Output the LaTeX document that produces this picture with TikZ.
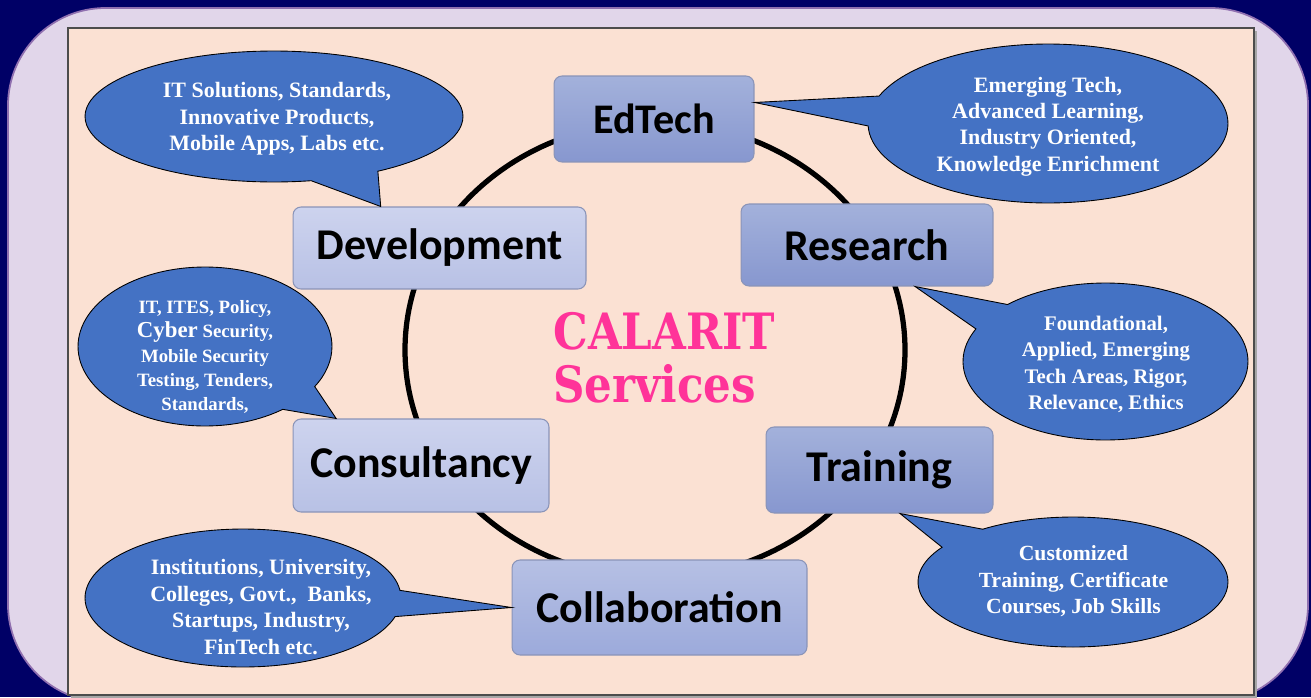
\documentclass[tikz,border=0pt]{standalone}
\usepackage{fontspec}
\setmainfont{Liberation Serif}
\newfontfamily\boxfont{Carlito}
\newfontfamily\titlefont[FakeStretch=0.87]{DejaVu Serif}
\usepackage{tikz}
\usetikzlibrary{shapes.callouts,calc}

\definecolor{navy}{HTML}{000066}
\definecolor{lavender}{HTML}{E1D6EA}
\definecolor{lavedge}{HTML}{9070B0}
\definecolor{peach}{HTML}{FBE1D3}
\definecolor{bubbleblue}{HTML}{4472C4}
\definecolor{titlepink}{HTML}{FF3399}
\definecolor{boxedge}{HTML}{8A94B8}
\definecolor{darktop}{HTML}{A3B1DB}
\definecolor{darkbot}{HTML}{8797CF}
\definecolor{lighttop}{HTML}{CDD3EE}
\definecolor{lightbot}{HTML}{B8C1E5}
\definecolor{midtop}{HTML}{B6C0E4}
\definecolor{midbot}{HTML}{9CAADB}

\begin{document}
\begin{tikzpicture}[x=0.02cm,y=-0.02cm,
  service/.style={draw=boxedge, line width=0.6pt, rounded corners=0.16cm, inner sep=0pt,
    font=\boxfont\bfseries\fontsize{25}{29}\selectfont},
  darkbox/.style={service, top color=darktop, bottom color=darkbot},
  lightbox/.style={service, top color=lighttop, bottom color=lightbot},
  midbox/.style={service, top color=midtop, bottom color=midbot},
  bubble/.style={ellipse callout, fill=bubbleblue, draw=black, line width=0.5pt,
    inner sep=0pt, callout pointer arc=22},
  bubbletext/.style={text=white, align=center, inner sep=0pt,
    font=\bfseries\fontsize{12.5}{15}\selectfont},
  ring/.style={draw=black, line width=0.105cm}
]
  \useasboundingbox (0,0) rectangle (1311,697);
  \fill[navy] (0,0) rectangle (1311,697);
  \draw[lavedge, fill=lavender, line width=1pt, rounded corners=1.95cm] (8,8) rectangle (1308,702);

  % inner panel
  \fill[black!35] (71,31) rectangle (1257,699);
  \draw[black!70, fill=peach, line width=0.8pt] (68,28) rectangle (1254,695);

  \draw[ring] (655,350) ellipse [x radius=250, y radius=228];

  % services
  \node[darkbox, minimum width=4cm, minimum height=1.72cm,
    font=\boxfont\bfseries\fontsize{24}{28}\selectfont] (edtech) at (654,119) {EdTech};
  \node[lightbox, minimum width=5.86cm, minimum height=1.64cm] (dev) at (439.5,248) {Development};
  \node[darkbox, minimum width=5.04cm, minimum height=1.64cm] (research) at (867,245) {Research};
  \node[lightbox, minimum width=5.12cm, minimum height=1.86cm] (cons) at (421,465.5) {Consultancy};
  \node[darkbox, minimum width=4.54cm, minimum height=1.72cm] (training) at (879.5,470) {Training};
  \node[midbox, minimum width=5.9cm, minimum height=1.9cm] (collab) at (659.5,607.5) {Collaboration};

  % callouts
  \node[bubble, minimum width=7.56cm, minimum height=2.62cm,
    callout absolute pointer={($(dev.north west)!0.3!(dev.north east)$)}] (devnote) at (274,116.5) {};
  \node[bubble, minimum width=7.2cm, minimum height=3.18cm,
    callout absolute pointer={($(edtech.north east)!0.31!(edtech.south east)$)}] (edtechnote) at (1048,123.5) {};
  \node[bubble, minimum width=5.08cm, minimum height=3.18cm,
    callout absolute pointer={($(cons.north west)!0.17!(cons.north east)$)}] (consnote) at (205,346.5) {};
  \node[bubble, minimum width=5.7cm, minimum height=3.14cm,
    callout absolute pointer={($(research.south west)!0.69!(research.south east)$)}] (resnote) at (1105.5,361.5) {};
  \node[bubble, minimum width=6.2cm, minimum height=2.6cm,
    callout absolute pointer={($(training.south west)!0.59!(training.south east)$)}] (trainnote) at (1073,582) {};
  \node[bubble, minimum width=6.32cm, minimum height=2.76cm,
    callout absolute pointer={(collab.west)}] (collabnote) at (243,598) {};

  \node[bubbletext] (devtext) at (277,119) {IT Solutions, Standards,\\Innovative Products,\\Mobile Apps, Labs etc.};
  \node[bubbletext] (edtechtext) at (1048,126.5) {Emerging Tech,\\Advanced Learning,\\Industry Oriented,\\Knowledge Enrichment};
  \node[bubbletext, font=\bfseries\fontsize{10.7}{13.9}\selectfont] (constext) at (205,357)
    {IT, ITES, Policy,\\{\fontsize{13}{13.9}\selectfont Cyber} Security,\\Mobile Security\\Testing, Tenders,\\Standards,};
  \node[bubbletext, font=\bfseries\fontsize{11.8}{15}\selectfont] (restext) at (1106,364.5)
    {Foundational,\\Applied, Emerging\\Tech Areas, Rigor,\\Relevance, Ethics};
  \node[bubbletext, font=\bfseries\fontsize{12.3}{15}\selectfont] (traintext) at (1073.5,581.5)
    {Customized\\Training, Certificate\\Courses, Job Skills};
  \node[bubbletext] (collabtext) at (261,607) {Institutions, University,\\Colleges, Govt.,\ \ Banks,\\Startups, Industry,\\FinTech etc.};

  \node[anchor=west, align=left, inner sep=0pt, text=titlepink,
    font=\titlefont\bfseries\fontsize{28.5}{30}\selectfont] (title) at (553,358) {CALARIT\\Services};
\end{tikzpicture}
\end{document}
